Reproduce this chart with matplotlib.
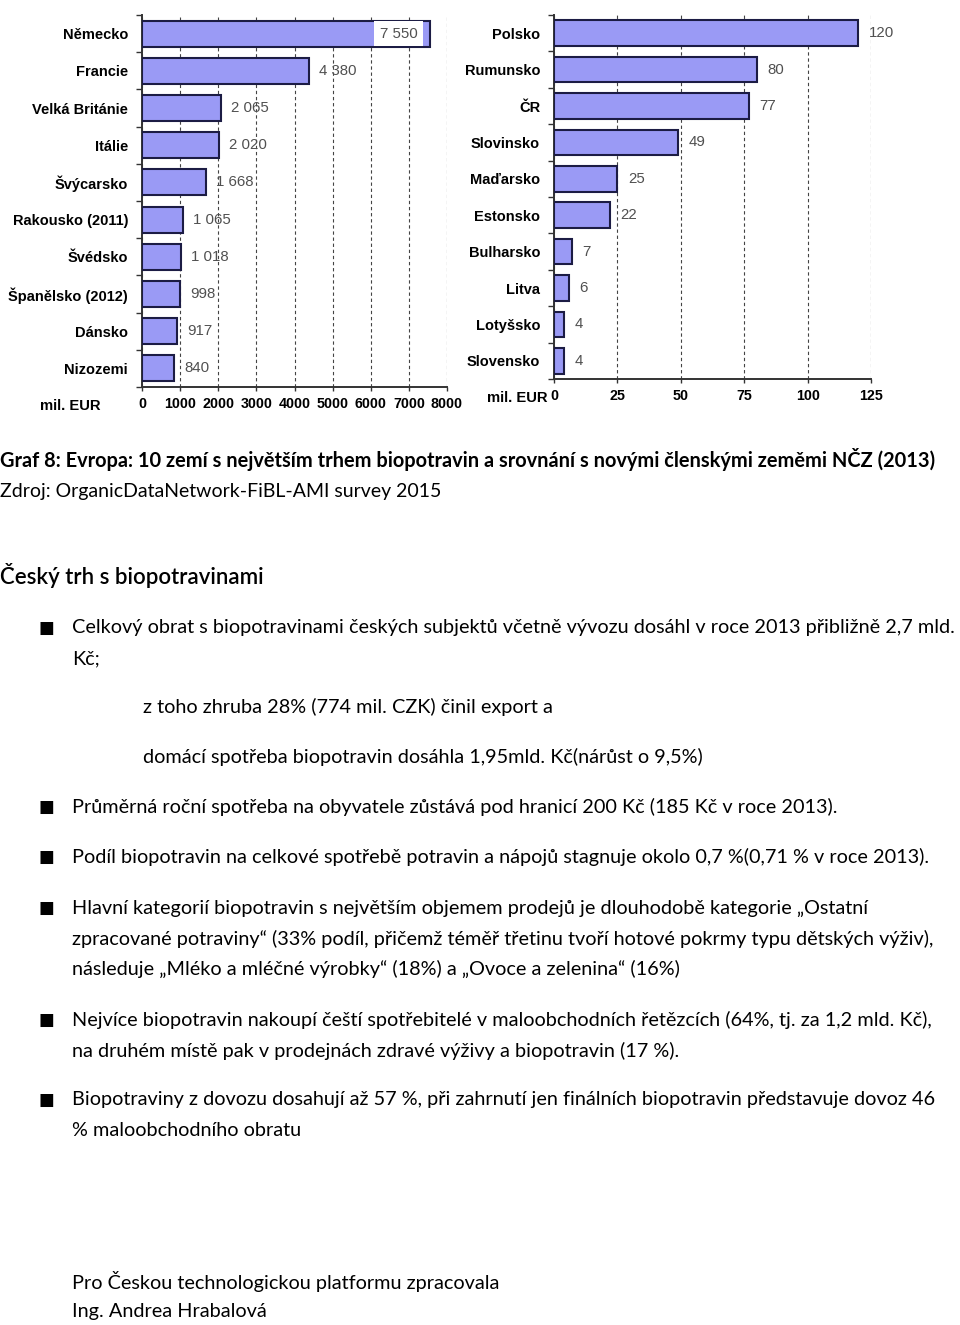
import numpy as np
import matplotlib
matplotlib.use("Agg")
import matplotlib.pyplot as plt
from matplotlib.ticker import FixedLocator

W, H = 960, 1325

# --- data ---
eu_countries = ["Německo", "Francie", "Velká Británie", "Itálie", "Švýcarsko",
                "Rakousko (2011)", "Švédsko", "Španělsko (2012)", "Dánsko", "Nizozemi"]
eu_values = [7550, 4380, 2065, 2020, 1668, 1065, 1018, 998, 917, 840]
eu_ticks = [0, 1000, 2000, 3000, 4000, 5000, 6000, 7000, 8000]

ncz_countries = ["Polsko", "Rumunsko", "ČR", "Slovinsko", "Maďarsko",
                 "Estonsko", "Bulharsko", "Litva", "Lotyšsko", "Slovensko"]
ncz_values = [120, 80, 77, 49, 25, 22, 7, 6, 4, 4]
ncz_ticks = [0, 25, 50, 75, 100, 125]

unit = "mil. EUR"

title = "Graf 8: Evropa: 10 zemí s největším trhem biopotravin a srovnání s novými členskými zeměmi NČZ (2013)"
source = "Zdroj: OrganicDataNetwork-FiBL-AMI survey 2015"
heading = "Český trh s biopotravinami"
bullets = [
    ["Celkový obrat s biopotravinami českých subjektů včetně vývozu dosáhl v roce 2013 přibližně 2,7 mld.",
     "Kč;"],
    ["Průměrná roční spotřeba na obyvatele zůstává pod hranicí 200 Kč (185 Kč v roce 2013)."],
    ["Podíl biopotravin na celkové spotřebě potravin a nápojů stagnuje okolo 0,7 %(0,71 % v roce 2013)."],
    ["Hlavní kategorií biopotravin s největším objemem prodejů je dlouhodobě kategorie „Ostatní",
     "zpracované potraviny“ (33% podíl, přičemž téměř třetinu tvoří hotové pokrmy typu dětských výživ),",
     "následuje „Mléko a mléčné výrobky“ (18%) a „Ovoce a zelenina“ (16%)"],
    ["Nejvíce biopotravin nakoupí čeští spotřebitelé v maloobchodních řetězcích (64%, tj. za 1,2 mld. Kč),",
     "na druhém místě pak v prodejnách zdravé výživy a biopotravin (17 %)."],
    ["Biopotraviny z dovozu dosahují až 57 %, při zahrnutí jen finálních biopotravin představuje dovoz 46",
     "% maloobchodního obratu"],
]
bullet_y = [628, 807, 857, 908, 1020, 1100]
sub_lines = ["z toho zhruba 28% (774 mil. CZK) činil export a",
             "domácí spotřeba biopotravin dosáhla 1,95mld. Kč(nárůst o 9,5%)"]
sub_y = [707, 757]
footer = ["Pro Českou technologickou platformu zpracovala", "Ing. Andrea Hrabalová"]
footer_y = [1281, 1312]

BAR = "#9a9af5"
EDGE = "#1c1c44"
CHART_FONT = "Liberation Sans"
TEXT_FONT = "Lato"
BODY_SIZE = 14.3


def fx(x):
    return x / W


def fy(y):
    return 1 - y / H


def draw_chart(ax, names, values, ticks, inside_first=False):
    n = len(names)
    y = np.arange(n)
    ax.barh(y, values, height=0.7, color=BAR, edgecolor=EDGE, linewidth=1.5, zorder=3)
    ax.set_ylim(n - 0.5, -0.5)
    ax.set_xlim(ticks[0], ticks[-1])
    ax.set_xticks(ticks)
    ax.set_xticklabels([str(t) for t in ticks], fontweight="bold", fontsize=10.3,
                       family=CHART_FONT)
    ax.set_yticks(y)
    ax.set_yticklabels(names, fontweight="bold", fontsize=10.5, family=CHART_FONT)
    ax.yaxis.set_minor_locator(FixedLocator(np.arange(n + 1) - 0.5))
    ax.tick_params(axis="y", which="major", length=0, pad=10)
    ax.tick_params(axis="y", which="minor", length=4, width=1, color="#333333")
    ax.tick_params(axis="x", length=3, width=1, color="#333333", pad=4.5)
    ax.xaxis.grid(True, linestyle=(0, (3, 2.5)), color="#444444", linewidth=0.8, zorder=1)
    ax.set_axisbelow(True)
    for s in ("top", "right"):
        ax.spines[s].set_visible(False)
    for s in ("left", "bottom"):
        ax.spines[s].set_color("#333333")
        ax.spines[s].set_linewidth(1.4)
    for i, v in enumerate(values):
        lab = f"{v:,}".replace(",", " ")
        if inside_first and i == 0:
            ax.annotate(lab, (v, i), xytext=(-9, 0), textcoords="offset points",
                        ha="right", va="center", fontsize=10.8, color="#505050",
                        family=CHART_FONT, zorder=4,
                        bbox=dict(boxstyle="square,pad=0.36", fc="white", ec="none"))
        else:
            ax.annotate(lab, (v, i), xytext=(7.5, 0), textcoords="offset points",
                        ha="left", va="center", fontsize=10.8, color="#505050",
                        family=CHART_FONT, zorder=4)


fig = plt.figure(figsize=(W / 100, H / 100), dpi=100)

ax1 = fig.add_axes([fx(142), fy(387), (447 - 142) / W, (387 - 15) / H])
draw_chart(ax1, eu_countries, eu_values, eu_ticks, inside_first=True)

ax2 = fig.add_axes([fx(554), fy(379), (871 - 554) / W, (379 - 15) / H])
draw_chart(ax2, ncz_countries, ncz_values, ncz_ticks)

fig.text(fx(40), fy(406), unit, fontweight="bold", fontsize=10.6, family=CHART_FONT,
         va="center", ha="left")
fig.text(fx(487), fy(398), unit, fontweight="bold", fontsize=10.6, family=CHART_FONT,
         va="center", ha="left")

# --- document text ---
fig.text(fx(0), fy(460), title, fontsize=14.4, fontweight="bold", family=TEXT_FONT,
         va="center", ha="left")
fig.text(fx(0), fy(491), source, fontsize=14.0, family=TEXT_FONT, va="center", ha="left")
fig.text(fx(0), fy(575), heading, fontsize=16.0, fontweight="semibold", family=TEXT_FONT,
         va="center", ha="left")

line_gap = 30.5
for lines, y0 in zip(bullets, bullet_y):
    fig.text(fx(39), fy(y0), "■", fontsize=12, family="DejaVu Sans", va="center", ha="left")
    for k, line in enumerate(lines):
        fig.text(fx(72), fy(y0 + k * line_gap), line, fontsize=BODY_SIZE, family=TEXT_FONT,
                 va="center", ha="left")

for line, y in zip(sub_lines, sub_y):
    fig.text(fx(143), fy(y), line, fontsize=BODY_SIZE, family=TEXT_FONT, va="center", ha="left")

for line, y in zip(footer, footer_y):
    fig.text(fx(72), fy(y), line, fontsize=BODY_SIZE, family=TEXT_FONT, va="center", ha="left")

fig.savefig("out.png", dpi=100)
